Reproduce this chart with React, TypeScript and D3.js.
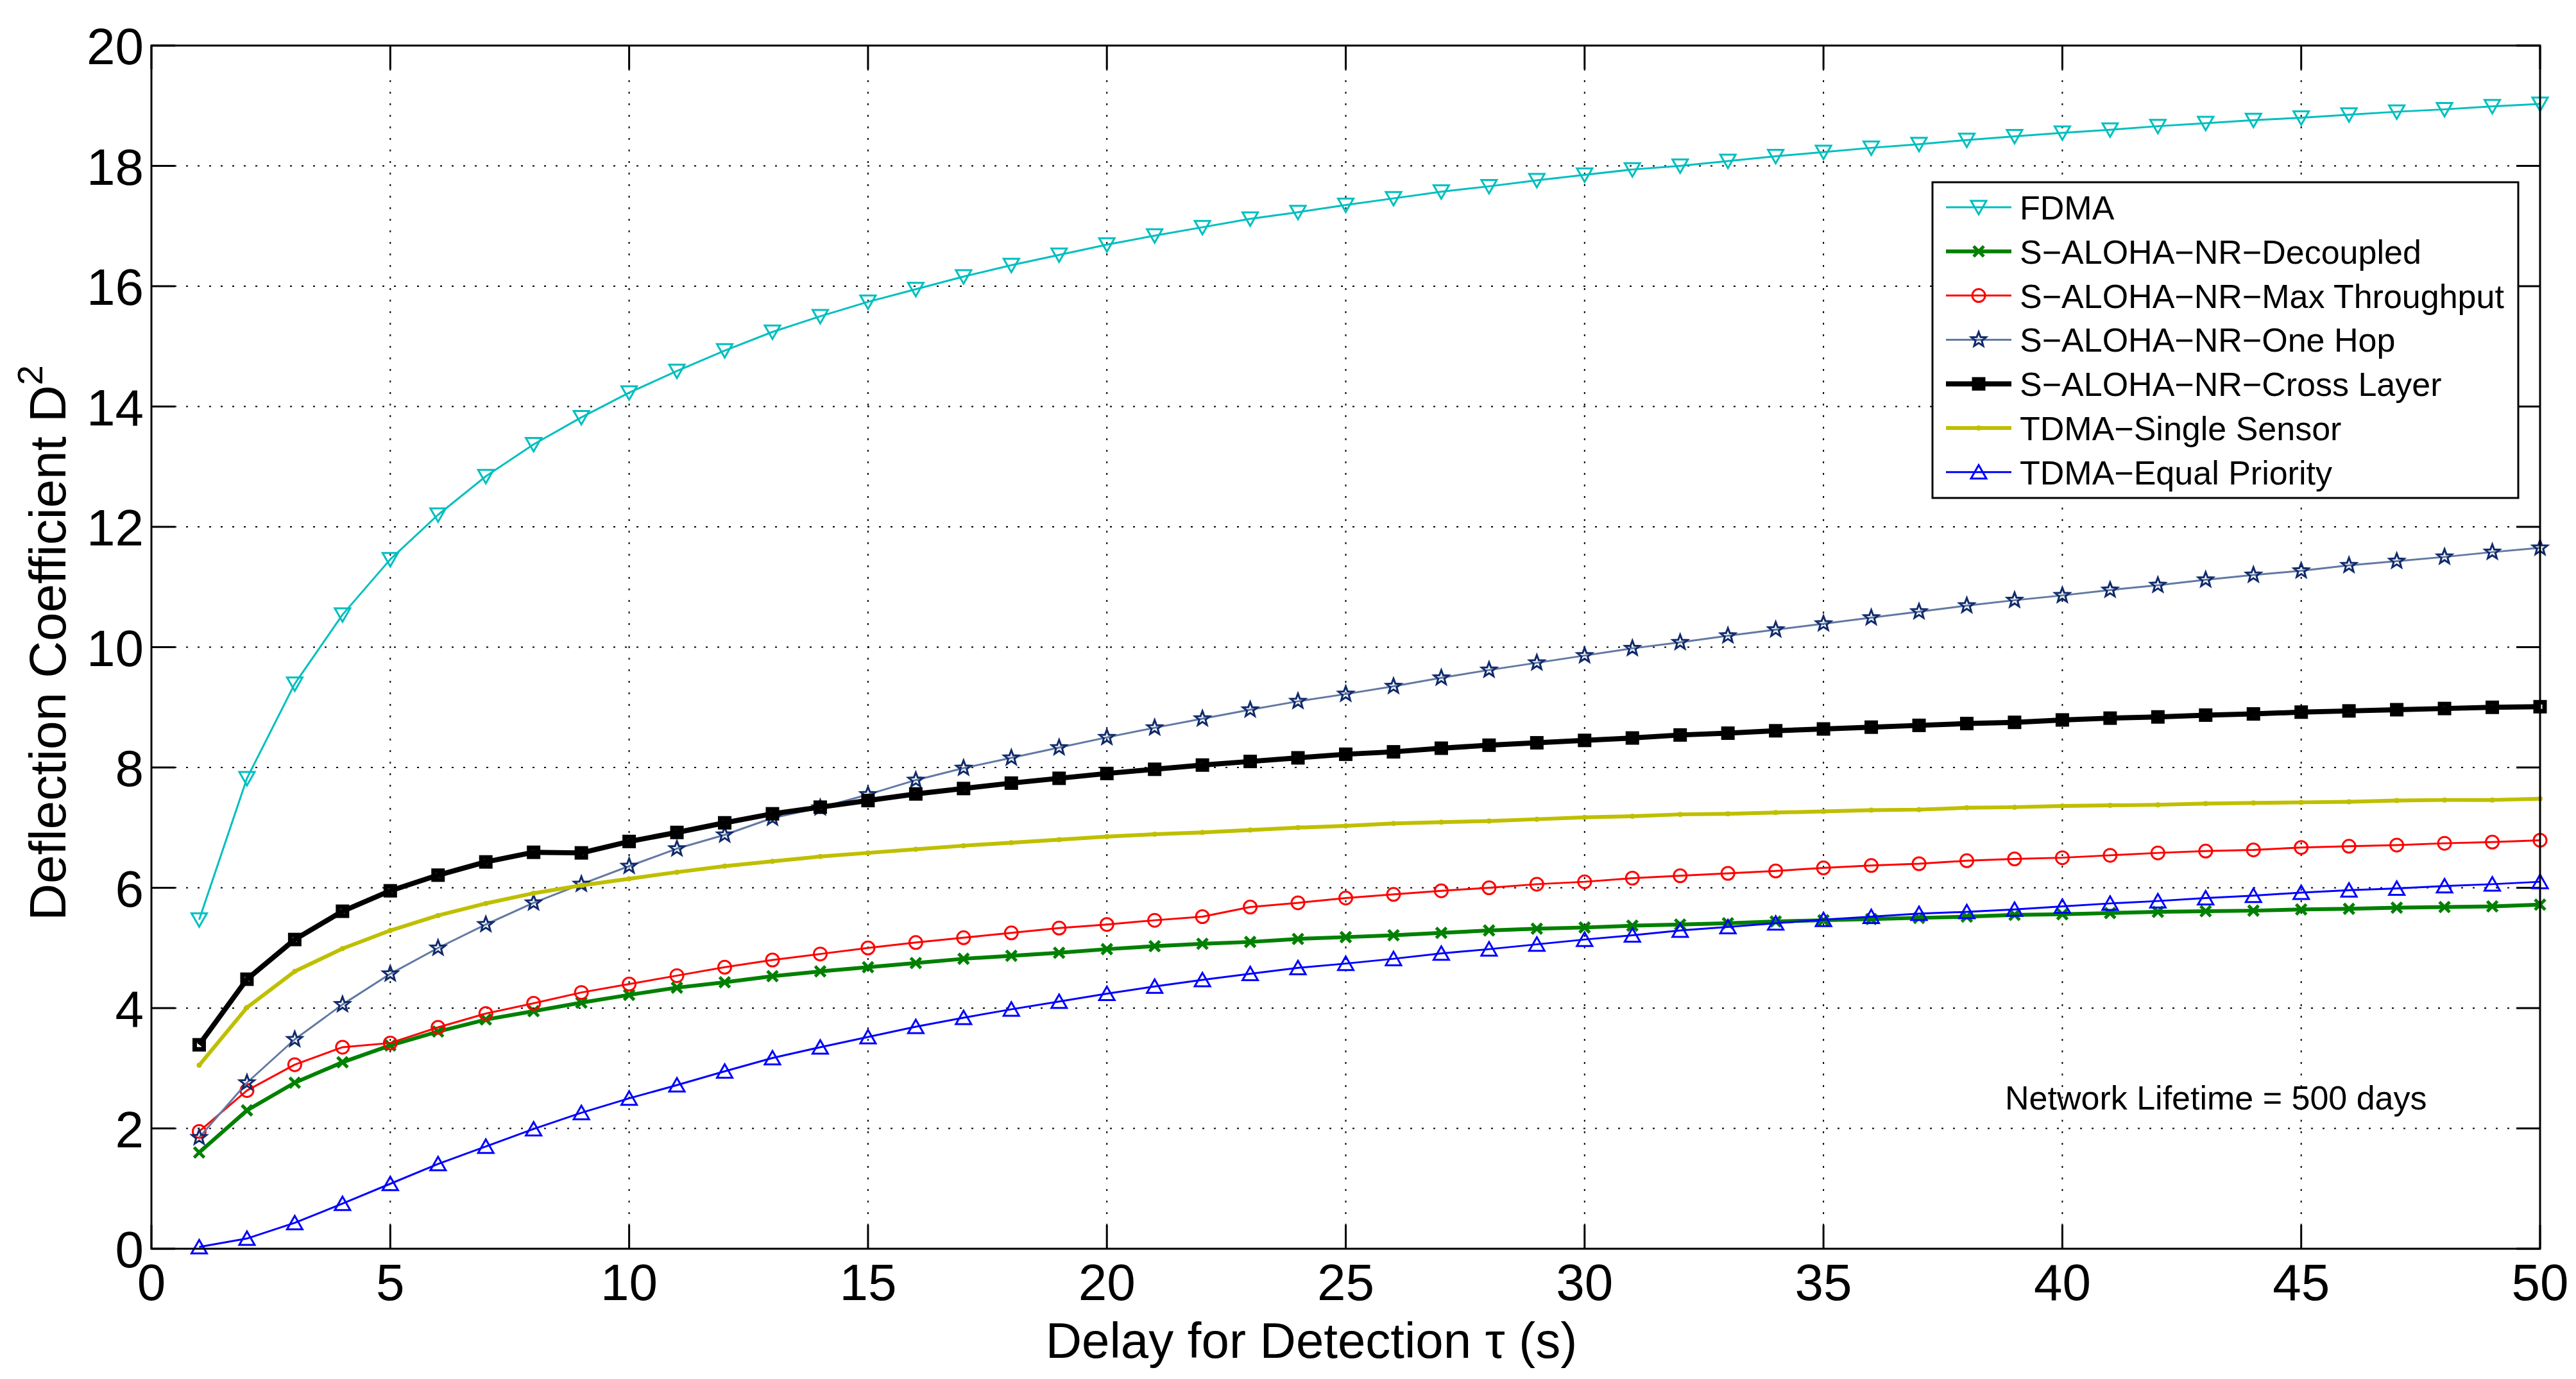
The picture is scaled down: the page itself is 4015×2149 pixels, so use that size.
import * as d3 from 'd3'

// delay for detection tau (s)
const tau = [1, 2, 3, 4, 5, 6, 7, 8, 9, 10, 11, 12, 13, 14, 15, 16, 17, 18, 19, 20, 21, 22, 23, 24, 25,
  26, 27, 28, 29, 30, 31, 32, 33, 34, 35, 36, 37, 38, 39, 40, 41, 42, 43, 44, 45, 46, 47, 48, 49, 50]

const fdma = [5.47, 7.82, 9.39, 10.54, 11.46, 12.2, 12.84, 13.37, 13.82, 14.23, 14.59, 14.93, 15.24, 15.5, 15.74,
  15.95, 16.16, 16.35, 16.52, 16.69, 16.84, 16.98, 17.12, 17.23, 17.35, 17.46, 17.57, 17.66, 17.76, 17.85,
  17.94, 18.0, 18.08, 18.16, 18.23, 18.3, 18.36, 18.43, 18.49, 18.55, 18.6, 18.66, 18.71, 18.76, 18.8,
  18.85, 18.9, 18.94, 18.99, 19.03]

const decoupled = [1.6, 2.3, 2.76, 3.1, 3.38, 3.61, 3.81, 3.95, 4.09, 4.22, 4.34, 4.43, 4.53, 4.61, 4.68,
  4.75, 4.82, 4.87, 4.92, 4.98, 5.03, 5.07, 5.1, 5.15, 5.18, 5.21, 5.25, 5.29, 5.32, 5.34,
  5.37, 5.39, 5.41, 5.44, 5.46, 5.48, 5.5, 5.52, 5.55, 5.56, 5.58, 5.6, 5.61, 5.62, 5.64,
  5.65, 5.67, 5.68, 5.69, 5.72]

const maxThroughput = [1.95, 2.63, 3.06, 3.35, 3.42, 3.68, 3.91, 4.08, 4.26, 4.4, 4.54, 4.68, 4.8, 4.9, 5.0,
  5.09, 5.17, 5.25, 5.33, 5.39, 5.46, 5.52, 5.68, 5.75, 5.83, 5.89, 5.95, 6.0, 6.06, 6.1,
  6.16, 6.2, 6.24, 6.28, 6.33, 6.37, 6.4, 6.45, 6.48, 6.5, 6.54, 6.58, 6.61, 6.63, 6.67,
  6.69, 6.71, 6.74, 6.76, 6.79]

const oneHop = [1.85, 2.76, 3.48, 4.06, 4.57, 5.0, 5.39, 5.75, 6.06, 6.36, 6.65, 6.88, 7.16, 7.33, 7.55,
  7.79, 7.99, 8.16, 8.33, 8.5, 8.66, 8.81, 8.96, 9.1, 9.22, 9.35, 9.49, 9.62, 9.74, 9.86,
  9.98, 10.08, 10.19, 10.29, 10.39, 10.49, 10.59, 10.69, 10.78, 10.86, 10.95, 11.03, 11.12, 11.2, 11.27,
  11.36, 11.43, 11.5, 11.58, 11.65]

const crossLayer = [3.39, 4.48, 5.14, 5.61, 5.95, 6.21, 6.43, 6.59, 6.58, 6.77, 6.92, 7.08, 7.23, 7.34, 7.45,
  7.56, 7.65, 7.74, 7.82, 7.9, 7.97, 8.04, 8.1, 8.16, 8.22, 8.26, 8.32, 8.37, 8.41, 8.45,
  8.49, 8.54, 8.57, 8.61, 8.64, 8.67, 8.7, 8.73, 8.75, 8.79, 8.82, 8.84, 8.87, 8.89, 8.92,
  8.94, 8.96, 8.98, 9.0, 9.01]

const singleSensor = [3.05, 4.01, 4.61, 4.99, 5.29, 5.54, 5.74, 5.91, 6.04, 6.15, 6.26, 6.36, 6.44, 6.52, 6.58,
  6.64, 6.7, 6.75, 6.8, 6.85, 6.89, 6.92, 6.96, 7.0, 7.03, 7.07, 7.09, 7.11, 7.14, 7.17,
  7.19, 7.22, 7.23, 7.25, 7.27, 7.29, 7.3, 7.33, 7.34, 7.36, 7.37, 7.38, 7.4, 7.41, 7.42,
  7.43, 7.45, 7.46, 7.46, 7.48]

const equalPriority = [0.03, 0.17, 0.43, 0.75, 1.08, 1.41, 1.7, 1.99, 2.26, 2.5, 2.72, 2.95, 3.17, 3.35, 3.52,
  3.69, 3.84, 3.98, 4.11, 4.24, 4.36, 4.47, 4.57, 4.67, 4.74, 4.82, 4.91, 4.98, 5.06, 5.14,
  5.21, 5.29, 5.35, 5.41, 5.47, 5.52, 5.57, 5.6, 5.64, 5.69, 5.74, 5.78, 5.83, 5.87, 5.92,
  5.96, 5.99, 6.03, 6.06, 6.1]

const xTicks = [0, 5, 10, 15, 20, 25, 30, 35, 40, 45, 50]
const yTicks = [0, 2, 4, 6, 8, 10, 12, 14, 16, 18, 20]

type MarkerKind = 'triDown' | 'x' | 'circle' | 'star' | 'square' | 'dot' | 'triUp'

interface Series {
  label: string
  values: number[]
  color: string
  markerColor: string
  width: number
  marker: MarkerKind
}

const series: Series[] = [
  { label: 'FDMA', values: fdma, color: '#00bfbf', markerColor: '#00bfbf', width: 3, marker: 'triDown' },
  { label: 'S\u2212ALOHA\u2212NR\u2212Decoupled', values: decoupled, color: '#008000', markerColor: '#008000', width: 6, marker: 'x' },
  { label: 'S\u2212ALOHA\u2212NR\u2212Max Throughput', values: maxThroughput, color: '#ff0000', markerColor: '#ff0000', width: 3, marker: 'circle' },
  { label: 'S\u2212ALOHA\u2212NR\u2212One Hop', values: oneHop, color: '#6279a3', markerColor: '#102a6c', width: 3, marker: 'star' },
  { label: 'S\u2212ALOHA\u2212NR\u2212Cross Layer', values: crossLayer, color: '#000000', markerColor: '#000000', width: 8, marker: 'square' },
  { label: 'TDMA\u2212Single Sensor', values: singleSensor, color: '#bfbf00', markerColor: '#bfbf00', width: 6, marker: 'dot' },
  { label: 'TDMA\u2212Equal Priority', values: equalPriority, color: '#0000ff', markerColor: '#0000ff', width: 3, marker: 'triUp' },
]

const W = 4015
const H = 2149
const margin = { top: 71, right: 56, bottom: 203, left: 236 }
const FONT = '"Liberation Sans", Arial, Helvetica, sans-serif'
const X_LABEL = 'Delay for Detection \u03c4 (s)'

const starPath = (r: number) => {
  const pts: string[] = []
  for (let i = 0; i < 10; i++) {
    const rad = i % 2 === 0 ? r : r * 0.42
    const a = -Math.PI / 2 + (i * Math.PI) / 5
    pts.push(`${(rad * Math.cos(a)).toFixed(2)},${(rad * Math.sin(a)).toFixed(2)}`)
  }
  return `M${pts.join('L')}Z`
}

const Marker: React.FC<{ kind: MarkerKind; x: number; y: number; color: string }> = ({ kind, x, y, color }) => {
  const t = `translate(${x},${y})`
  switch (kind) {
    case 'triDown':
      return <path transform={t} d="M-12,-10L12,-10L0,11Z" fill="none" stroke={color} strokeWidth={3} />
    case 'triUp':
      return <path transform={t} d="M-12,10L12,10L0,-11Z" fill="none" stroke={color} strokeWidth={3} />
    case 'x':
      return <path transform={t} d="M-8,-8L8,8M-8,8L8,-8" stroke={color} strokeWidth={5} />
    case 'circle':
      return <circle cx={x} cy={y} r={10} fill="none" stroke={color} strokeWidth={3} />
    case 'star':
      return <path transform={t} d={starPath(12)} fill="none" stroke={color} strokeWidth={3} strokeLinejoin="miter" />
    case 'square':
      return <rect x={x - 7} y={y - 7} width={14} height={14} fill="none" stroke={color} strokeWidth={7} />
    case 'dot':
      return <circle cx={x} cy={y} r={4} fill={color} />
  }
}

export default function App() {
  const innerW = W - margin.left - margin.right
  const innerH = H - margin.top - margin.bottom
  const x = d3.scaleLinear().domain([0, 50]).range([margin.left, margin.left + innerW])
  const y = d3.scaleLinear().domain([0, 20]).range([margin.top + innerH, margin.top])
  const x0 = margin.left
  const x1 = margin.left + innerW
  const y0 = margin.top + innerH
  const y1 = margin.top
  const tickLen = 37

  const line = d3.line<number>()
    .x((_, i) => x(tau[i]))
    .y(d => y(d))

  const legend = { x: 3012, y: 284, w: 913, h: 492, row0: 323, step: 68.8 }

  return (
    <div style={{ position: 'absolute', left: 0, top: 0 }}>
      <svg width={W} height={H} style={{ display: 'block', background: '#fff' }} fontFamily={FONT}>
        <rect x={0} y={0} width={W} height={H} fill="#fff" />

        {/* grid */}
        <g stroke="#000" strokeWidth={2} strokeDasharray="3 15">
          {xTicks.filter(t => t > 0 && t < 50).map(t => (
            <line key={`gx${t}`} x1={x(t)} x2={x(t)} y1={y0} y2={y1} />
          ))}
          {yTicks.filter(t => t > 0 && t < 20).map(t => (
            <line key={`gy${t}`} x1={x0} x2={x1} y1={y(t)} y2={y(t)} />
          ))}
        </g>

        {/* ticks */}
        <g stroke="#000" strokeWidth={3}>
          {xTicks.map(t => (
            <g key={`tx${t}`}>
              <line x1={x(t)} x2={x(t)} y1={y0} y2={y0 - tickLen} />
              <line x1={x(t)} x2={x(t)} y1={y1} y2={y1 + tickLen} />
            </g>
          ))}
          {yTicks.map(t => (
            <g key={`ty${t}`}>
              <line x1={x0} x2={x0 + tickLen} y1={y(t)} y2={y(t)} />
              <line x1={x1} x2={x1 - tickLen} y1={y(t)} y2={y(t)} />
            </g>
          ))}
        </g>

        {/* series */}
        {series.map(s => (
          <g key={s.label}>
            <path d={line(s.values) || ''} fill="none" stroke={s.color} strokeWidth={s.width} strokeLinejoin="round" />
            {s.values.map((v, i) => (
              <Marker key={i} kind={s.marker} x={x(tau[i])} y={y(v)} color={s.markerColor} />
            ))}
          </g>
        ))}

        {/* axes box */}
        <rect x={x0} y={y1} width={innerW} height={innerH} fill="none" stroke="#000" strokeWidth={3} />

        {/* tick labels */}
        <g fontSize={80} fill="#000">
          {xTicks.map(t => (
            <text key={`lx${t}`} x={x(t)} y={2026} textAnchor="middle">{t}</text>
          ))}
          {yTicks.map(t => (
            <text key={`ly${t}`} x={224} y={y(t) + 29} textAnchor="end">{t}</text>
          ))}
        </g>

        {/* axis labels */}
        <text x={2044} y={2116} textAnchor="middle" fontSize={78}>{X_LABEL}</text>
        <text transform="translate(102,1002) rotate(-90)" textAnchor="middle" fontSize={80}>
          Deflection Coefficient D<tspan dy={-36} fontSize={56}>2</tspan>
        </text>

        {/* annotation */}
        <text x={3125} y={1729} fontSize={52}>Network Lifetime = 500 days</text>

        {/* legend */}
        <rect x={legend.x} y={legend.y} width={legend.w} height={legend.h} fill="#fff" stroke="#000" strokeWidth={3} />
        {series.map((s, i) => {
          const ly = legend.row0 + i * legend.step
          return (
            <g key={`lg${i}`}>
              <line x1={3033} x2={3135} y1={ly} y2={ly} stroke={s.color} strokeWidth={s.width} />
              <Marker kind={s.marker} x={3084} y={ly} color={s.markerColor} />
              <text x={3148} y={ly + 19} fontSize={52}>{s.label}</text>
            </g>
          )
        })}
      </svg>
    </div>
  )
}
